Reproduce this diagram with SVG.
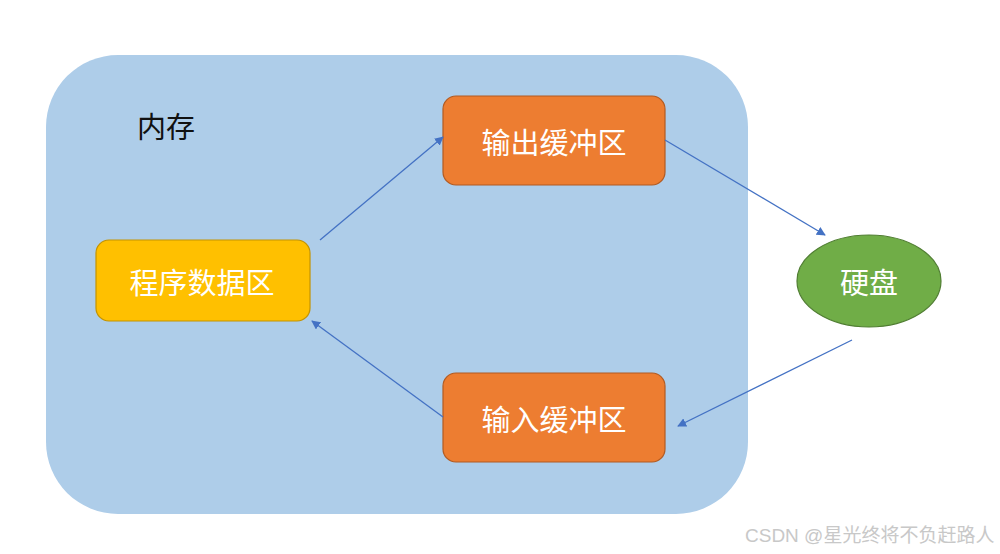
<svg xmlns="http://www.w3.org/2000/svg" width="1000" height="554" viewBox="0 0 1000 554">
<defs>
<style>
.lbl{font-family:"Microsoft YaHei","Noto Sans CJK SC",sans-serif;font-size:29px;fill:#ffffff;text-anchor:middle;dominant-baseline:central}
.box{stroke-width:1.2}
.conn{stroke:#4472C4;stroke-width:1.3;fill:none;marker-end:url(#arr)}
</style>
<marker id="arr" viewBox="0 0 10 10" refX="9" refY="5" markerWidth="9" markerHeight="9" markerUnits="userSpaceOnUse" orient="auto">
<path d="M0,0 L10,5 L0,10 z" fill="#4472C4"/>
</marker>
</defs>
<rect width="1000" height="554" fill="#ffffff"/>
<g id="memory">
<rect x="46" y="55" width="702" height="459" rx="72" ry="72" fill="#AECDE9"/>
<text x="137" y="125" font-family="'Microsoft YaHei','Noto Sans CJK SC',sans-serif" font-size="29" fill="#111111" dominant-baseline="central">内存</text>
</g>
<g id="output-buffer">
<rect class="box" x="443" y="96" width="222" height="89" rx="13" fill="#ED7D31" stroke="#B25B22"/>
<text class="lbl" x="554" y="141">输出缓冲区</text>
</g>
<g id="program-data">
<rect class="box" x="96" y="240" width="214" height="81" rx="13" fill="#FFC000" stroke="#C39300"/>
<text class="lbl" x="202" y="281">程序数据区</text>
</g>
<g id="input-buffer">
<rect class="box" x="443" y="373" width="222" height="89" rx="13" fill="#ED7D31" stroke="#B25B22"/>
<text class="lbl" x="554" y="418">输入缓冲区</text>
</g>
<g id="disk">
<ellipse cx="869" cy="281" rx="72" ry="46" fill="#70AD47" stroke="#507E32" stroke-width="1.2"/>
<text class="lbl" x="869" y="281">硬盘</text>
</g>
<g id="connectors">
<line class="conn" x1="320" y1="240" x2="443" y2="137"/>
<line class="conn" x1="665" y1="140" x2="825" y2="235"/>
<line class="conn" x1="852" y1="340" x2="678" y2="426"/>
<line class="conn" x1="443" y1="417" x2="312" y2="321"/>
</g>
<text x="745" y="542" font-family="'Liberation Sans','Noto Sans CJK SC',sans-serif" font-size="19" fill="#C8C8C8">CSDN @星光终将不负赶路人</text>
</svg>
